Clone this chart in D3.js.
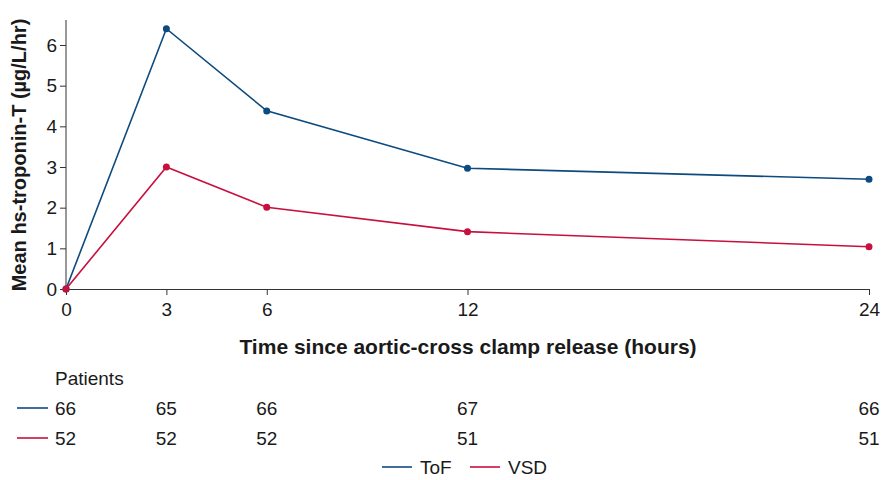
<!DOCTYPE html>
<style>
    body, html { margin: 0; padding: 0; background: #fff; }
    text { font-family: "Liberation Sans", Arial, sans-serif; fill: #1a1a1a; }
</style>
<svg width="883" height="480"></svg>
<script src="https://cdnjs.cloudflare.com/ajax/libs/d3/7.8.5/d3.min.js"></script>
<script>
    var hours = [0, 3, 6, 12, 24];
    var tof = [0, 6.4, 4.38, 2.97, 2.7];
    var vsd = [0, 3.0, 2.01, 1.41, 1.04];
    var tofPatients = [66, 65, 66, 67, 66];
    var vsdPatients = [52, 52, 52, 51, 51];
    var yTicks = [0, 1, 2, 3, 4, 5, 6];

    var tofColor = "#0d4a7f", vsdColor = "#c8103e";
    var fs = 19;
    var svg = d3.select("svg");
    var x = d3.scaleLinear().domain([0, 24]).range([66, 869]);
    var y = d3.scaleLinear().domain([0, 6]).range([289, 45]);

    // axes
    var xAxis = svg.append("g").attr("transform", "translate(0,289)")
        .call(d3.axisBottom(x).tickValues(hours).tickFormat(d3.format("d")).tickSize(6).tickSizeOuter(0));
    var yAxis = svg.append("g").attr("transform", "translate(66,0)")
        .call(d3.axisLeft(y).tickValues(yTicks).tickFormat(d3.format("d")).tickSize(6).tickSizeOuter(0));
    yAxis.select(".domain").attr("d", "M0," + y(0) + "V20");
    [xAxis, yAxis].forEach(function (a) {
        a.attr("font-size", fs).attr("font-family", "Liberation Sans, Arial, sans-serif");
        a.selectAll("text").attr("fill", "#1a1a1a");
        a.selectAll("line,.domain").attr("stroke", "#333");
    });
    xAxis.selectAll("text").attr("dy", "0.95em");

    svg.append("text").attr("x", 468).attr("y", 354).attr("text-anchor", "middle")
        .attr("font-size", 21).attr("font-weight", "bold")
        .text("Time since aortic-cross clamp release (hours)");
    svg.append("text").attr("transform", "translate(26,155) rotate(-90)").attr("text-anchor", "middle")
        .attr("font-size", 20).attr("font-weight", "bold")
        .text("Mean hs-troponin-T (µg/L/hr)");

    var line = d3.line().x(function (d, i) { return x(hours[i]); }).y(function (d) { return y(d); });
    [[tof, tofColor], [vsd, vsdColor]].forEach(function (s) {
        svg.append("path").datum(s[0]).attr("d", line).attr("fill", "none")
            .attr("stroke", s[1]).attr("stroke-width", 1.6);
        svg.append("g").selectAll("circle").data(s[0]).enter().append("circle")
            .attr("cx", function (d, i) { return x(hours[i]); })
            .attr("cy", function (d) { return y(d); })
            .attr("r", 3.5).attr("fill", s[1]);
    });

    // patients table
    svg.append("text").attr("x", 55).attr("y", 385).attr("font-size", fs).text("Patients");
    [[tofPatients, tofColor, 415], [vsdPatients, vsdColor, 445]].forEach(function (r) {
        svg.append("line").attr("x1", 17).attr("x2", 48).attr("y1", r[2] - 7).attr("y2", r[2] - 7)
            .attr("stroke", r[1]).attr("stroke-width", 1.6);
        svg.append("g").selectAll("text").data(r[0]).enter().append("text")
            .attr("x", function (d, i) { return i === 0 ? 55 : x(hours[i]); })
            .attr("y", r[2]).attr("font-size", fs)
            .attr("text-anchor", function (d, i) { return i === 0 ? "start" : "middle"; })
            .text(function (d) { return d; });
    });

    // legend
    [["ToF", tofColor, 382], ["VSD", vsdColor, 470]].forEach(function (l) {
        svg.append("line").attr("x1", l[2]).attr("x2", l[2] + 30).attr("y1", 467).attr("y2", 467)
            .attr("stroke", l[1]).attr("stroke-width", 1.6);
        svg.append("text").attr("x", l[2] + 38).attr("y", 474).attr("font-size", fs).text(l[0]);
    });
</script>
